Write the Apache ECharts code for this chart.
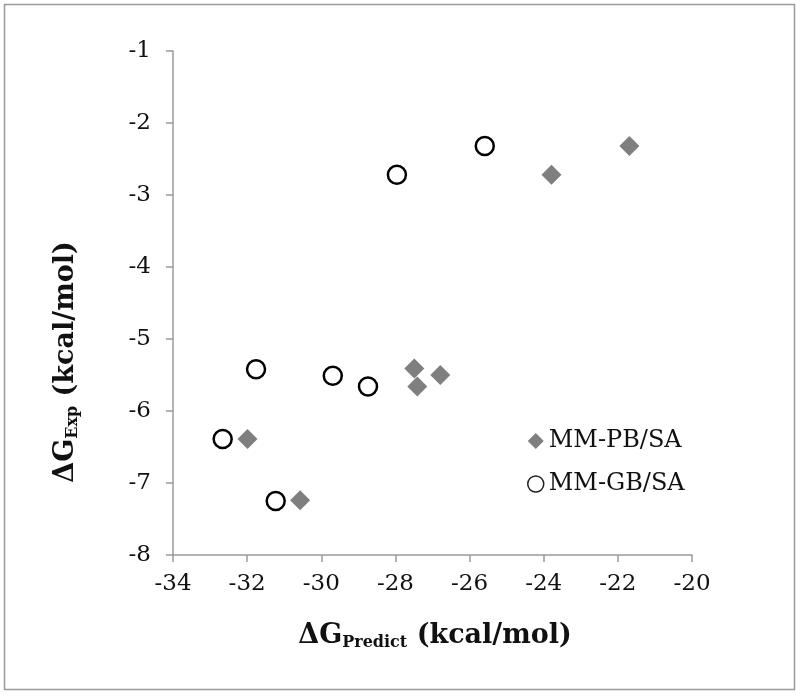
<!DOCTYPE html>
<html><head><meta charset="utf-8">
<script src="https://cdn.jsdelivr.net/npm/echarts@6/dist/echarts.min.js"></script>
<style>html,body{margin:0;padding:0;background:#fff}#c{width:800px;height:695px}</style>
</head><body><div id="c"></div>
<script>
var xTicks = [-34, -32, -30, -28, -26, -24, -22, -20];
var yTicks = [-8, -7, -6, -5, -4, -3, -2, -1];
var pbX = [-21.69, -23.79, -27.49, -27.41, -26.79, -31.99, -30.57];
var pbY = [-2.32, -2.72, -5.41, -5.66, -5.50, -6.39, -7.24];
var gbX = [-25.59, -27.96, -31.76, -29.69, -28.74, -32.66, -31.23];
var gbY = [-2.32, -2.72, -5.42, -5.51, -5.66, -6.39, -7.25];
var seriesNames = ['MM-PB/SA', 'MM-GB/SA'];

function pairs(xs, ys) { return xs.map(function (x, i) { return [x, ys[i]]; }); }
var FONT = '"DejaVu Serif", serif';
var chart = echarts.init(document.getElementById('c'));
chart.setOption({
  animation: false,
  backgroundColor: '#fff',
  grid: { left: 173, top: 51, width: 519, height: 504, containLabel: false },
  xAxis: {
    type: 'value', min: xTicks[0], max: xTicks[xTicks.length - 1], interval: 2,
    axisLine: { show: true, lineStyle: { color: '#9a9a9a', width: 1.5 } },
    axisTick: { show: true, length: 7, lineStyle: { color: '#9a9a9a', width: 1.5 } },
    splitLine: { show: false },
    axisLabel: { margin: 18, fontFamily: FONT, fontSize: 23, color: '#111' }
  },
  yAxis: {
    type: 'value', min: yTicks[0], max: yTicks[yTicks.length - 1], interval: 1,
    axisLine: { show: true, lineStyle: { color: '#9a9a9a', width: 1.5 } },
    axisTick: { show: true, length: 7, lineStyle: { color: '#9a9a9a', width: 1.5 } },
    splitLine: { show: false },
    axisLabel: { margin: 22, fontFamily: FONT, fontSize: 23, color: '#111' }
  },
  legend: {
    orient: 'vertical', left: 522, top: 424, itemGap: 19, itemWidth: 16, itemHeight: 16,
    textStyle: { fontFamily: FONT, fontSize: 24, color: '#111', padding: [0, 0, 0, 0] },
    data: [
      { name: seriesNames[0], icon: 'diamond', itemStyle: { color: '#7f7f7f' } },
      { name: seriesNames[1], icon: 'circle', itemStyle: { color: '#fff', borderColor: '#222', borderWidth: 1.5 } }
    ]
  },
  series: [
    { name: seriesNames[0], type: 'scatter', symbol: 'diamond', symbolSize: 20,
      itemStyle: { color: '#7f7f7f', opacity: 1 }, data: pairs(pbX, pbY) },
    { name: seriesNames[1], type: 'scatter', symbol: 'circle', symbolSize: 18,
      itemStyle: { color: '#fff', borderColor: '#000', borderWidth: 2.5, opacity: 1 }, data: pairs(gbX, gbY) }
  ],
  graphic: [
    { type: 'rect', shape: { x: 4.5, y: 4.5, width: 790, height: 685 }, silent: true,
      style: { fill: 'none', stroke: '#9a9a9a', lineWidth: 1.5 } },
    { type: 'text', x: 435, y: 636, silent: true,
      style: { text: '{b|ΔG}{s|Predict}{b| (kcal/mol)}', align: 'center', verticalAlign: 'middle',
        rich: { b: { fontFamily: FONT, fontWeight: 'bold', fontSize: 27, fill: '#111', color: '#111' },
                s: { fontFamily: FONT, fontWeight: 'bold', fontSize: 16, fill: '#111', color: '#111', padding: [14, 0, 0, 0] } } } },
    { type: 'text', x: 66, y: 362, rotation: Math.PI / 2, silent: true,
      style: { text: '{b|ΔG}{s|Exp}{b| (kcal/mol)}', align: 'center', verticalAlign: 'middle',
        rich: { b: { fontFamily: FONT, fontWeight: 'bold', fontSize: 27, fill: '#111', color: '#111' },
                s: { fontFamily: FONT, fontWeight: 'bold', fontSize: 16, fill: '#111', color: '#111', padding: [14, 0, 0, 0] } } } }
  ]
});
</script></body></html>
